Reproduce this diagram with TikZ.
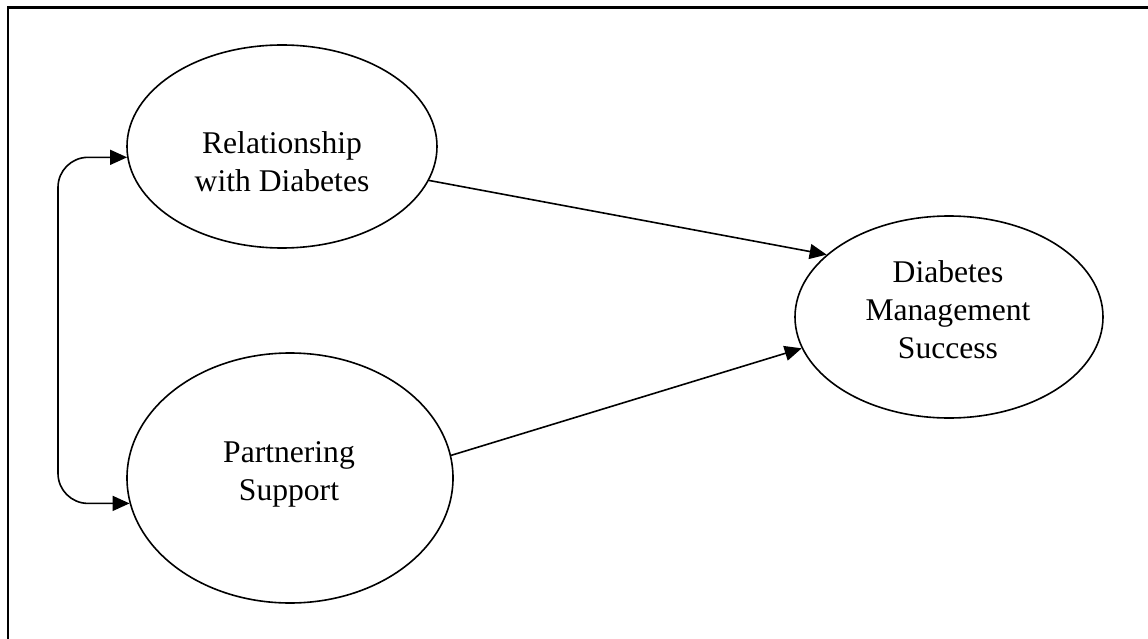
\documentclass[tikz,border=0pt]{standalone}
\usepackage{fontspec}
\setmainfont{Liberation Serif}
\usetikzlibrary{arrows.meta,shapes.geometric,calc}
\begin{document}
\begin{tikzpicture}[x=1pt,y=-1pt,
  ell/.style={draw,ellipse,line width=1.6pt,inner sep=0pt},
  lbl/.style={align=center,font=\fontsize{31.6}{38}\selectfont,inner sep=0pt},
  arr/.style={line width=1.6pt,-{Triangle[length=17pt,width=15pt]}},
  darr/.style={line width=1.6pt,{Triangle[length=17pt,width=15pt]}-{Triangle[length=17pt,width=15pt]}}]
\useasboundingbox (0,0) rectangle (1148,639);
\fill[white] (0,0) rectangle (1148,639);
% frame (only top and left visible)
\draw[line width=2.4pt] (8,639) -- (8,7.5) -- (1148,7.5);
% ellipses
\node[ell,minimum width=310pt,minimum height=203pt] (rel) at (282,146.5) {};
\node[ell,minimum width=326pt,minimum height=250pt] (ps) at (290,478) {};
\node[ell,minimum width=308pt,minimum height=202pt] (dms) at (949,317) {};
% labels
\node[lbl] (reltxt) at (282,162) {Relationship\\with Diabetes};
\node[lbl] (pstxt) at (289,474) {Partnering\\Support};
\node[lbl] (dmstxt) at (948,310) {Diabetes\\Management\\Success};
% connectors
\draw[arr] (rel.-13.5) -- (dms.153.6);
\draw[arr] (ps.8.4) -- (dms.192.8);
\coordinate (lx) at (58,330);
\draw[darr,rounded corners=30pt] (rel.184) -| (lx) |- (ps.189);
\end{tikzpicture}
\end{document}
